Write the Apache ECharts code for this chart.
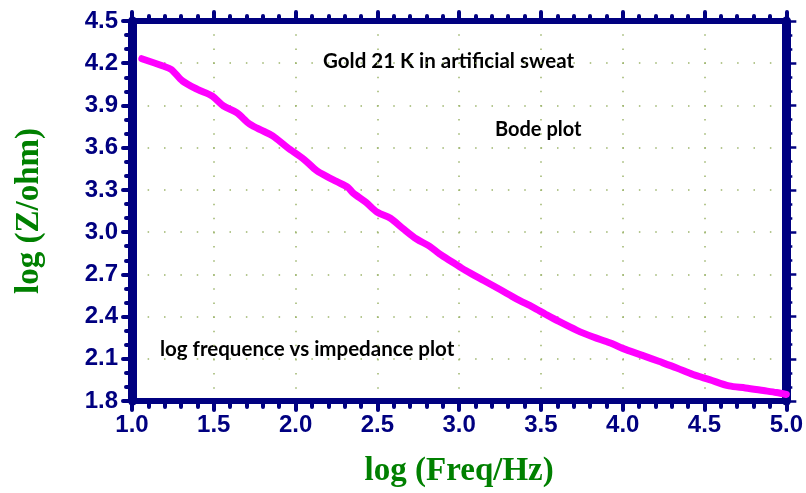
<!DOCTYPE html>
<html>
<head>
<meta charset="utf-8">
<script src="https://cdn.jsdelivr.net/npm/echarts@6/dist/echarts.min.js"></script>
<style>html,body{margin:0;padding:0;background:#fff}#c{width:806px;height:493px}</style>
</head>
<body>
<div id="c"></div>
<script>
// Data
var logFreq = [1.06,1.19,1.24,1.31,1.40,1.49,1.56,1.64,1.72,1.80,1.86,1.95,2.05,2.13,2.19,2.25,2.32,2.35,2.43,2.50,2.58,2.66,2.74,2.82,2.88,2.96,3.04,3.15,3.25,3.35,3.45,3.53,3.61,3.72,3.82,3.92,4.02,4.12,4.22,4.33,4.43,4.53,4.65,4.75,4.86,4.94,5.00];
var logZ = [4.232,4.180,4.156,4.073,4.014,3.967,3.896,3.849,3.767,3.719,3.684,3.601,3.518,3.436,3.396,3.360,3.318,3.280,3.212,3.141,3.098,3.022,2.951,2.899,2.845,2.786,2.727,2.656,2.592,2.526,2.467,2.415,2.365,2.302,2.255,2.214,2.165,2.124,2.082,2.035,1.988,1.952,1.907,1.893,1.874,1.860,1.846];
var xTitle = 'log (Freq/Hz)';
var yTitle = 'log (Z/ohm)';
var notes = ['Gold 21 K in artificial sweat', 'Bode plot', 'log frequence vs impedance plot'];

var navy = '#000080';
var green = '#008000';
var dotColor = '#9db56c';
var pts = logFreq.map(function (x, i) { return [x, logZ[i]]; });

function fmt(v) { return (Math.round(v * 10) / 10).toFixed(1); }

var chart = echarts.init(document.getElementById('c'), null, {renderer: 'canvas'});
var labelStyle = {color: navy, fontSize: 24, fontWeight: 'bold', fontFamily: 'Liberation Sans, Arial'};
var nameStyle = {color: green, fontSize: 33, fontWeight: 'bold', fontFamily: 'Liberation Serif, Times New Roman'};

chart.setOption({
  animation: false,
  grid: {left: 132, top: 21, width: 655, height: 381, containLabel: false},
  xAxis: [{
    type: 'value', min: 1, max: 5, interval: 0.5, position: 'bottom',
    axisLine: {show: true, onZero: false, lineStyle: {color: navy, width: 6}},
    axisTick: {show: true, length: 9, lineStyle: {color: navy, width: 4, cap: 'round'}},
    minorTick: {show: true, splitNumber: 5, length: 6, lineStyle: {color: navy, width: 4, cap: 'round'}},
    axisLabel: Object.assign({margin: 12, formatter: fmt}, labelStyle),
    splitLine: {show: true, lineStyle: {color: dotColor, width: 1.5, type: [1.5, 12.611], dashOffset: 0.75}},
    name: xTitle, nameLocation: 'middle', nameGap: 54, nameTextStyle: nameStyle
  }, {
    type: 'value', min: 1, max: 5, interval: 0.5, position: 'top',
    axisLine: {show: true, onZero: false, lineStyle: {color: navy, width: 6}},
    axisTick: {show: true, length: 9, lineStyle: {color: navy, width: 4, cap: 'round'}},
    minorTick: {show: true, splitNumber: 5, length: 5, lineStyle: {color: navy, width: 4, cap: 'round'}},
    axisLabel: {show: false},
    splitLine: {show: false}
  }],
  yAxis: [{
    type: 'value', min: 1.8, max: 4.5, interval: 0.3, position: 'left',
    axisLine: {show: true, onZero: false, lineStyle: {color: navy, width: 9}},
    axisTick: {show: true, length: 9, lineStyle: {color: navy, width: 4, cap: 'round'}},
    minorTick: {show: true, splitNumber: 3, length: 6, lineStyle: {color: navy, width: 4, cap: 'round'}},
    axisLabel: Object.assign({margin: 14, formatter: fmt}, labelStyle),
    splitLine: {show: true, lineStyle: {color: dotColor, width: 1.5, type: [1.5, 14.875], dashOffset: 0.75}},
    name: yTitle, nameLocation: 'middle', nameGap: 86, nameRotate: 90, nameTextStyle: nameStyle
  }, {
    type: 'value', min: 1.8, max: 4.5, interval: 0.3, position: 'right',
    axisLine: {show: true, onZero: false, lineStyle: {color: navy, width: 9}},
    axisTick: {show: true, length: 10, lineStyle: {color: navy, width: 2.5}},
    minorTick: {show: true, splitNumber: 3, length: 6, lineStyle: {color: navy, width: 2.5}},
    axisLabel: {show: false},
    splitLine: {show: false}
  }],
  graphic: [
    {type: 'text', left: 323, top: 51, style: {text: notes[0], font: 'bold 20.5px Lato', fill: '#000'}},
    {type: 'text', left: 495, top: 120, style: {text: notes[1], font: 'bold 20px Lato', fill: '#000'}},
    {type: 'text', left: 160, top: 339, style: {text: notes[2], font: 'bold 20.5px Lato', fill: '#000'}}
  ],
  series: [{
    type: 'line', xAxisIndex: 0, yAxisIndex: 0, data: pts, showSymbol: false, symbol: 'none',
    smooth: 0.3, clip: false,
    lineStyle: {color: '#ff00ff', width: 7, cap: 'round', join: 'round'}
  }]
});
</script>
</body>
</html>
